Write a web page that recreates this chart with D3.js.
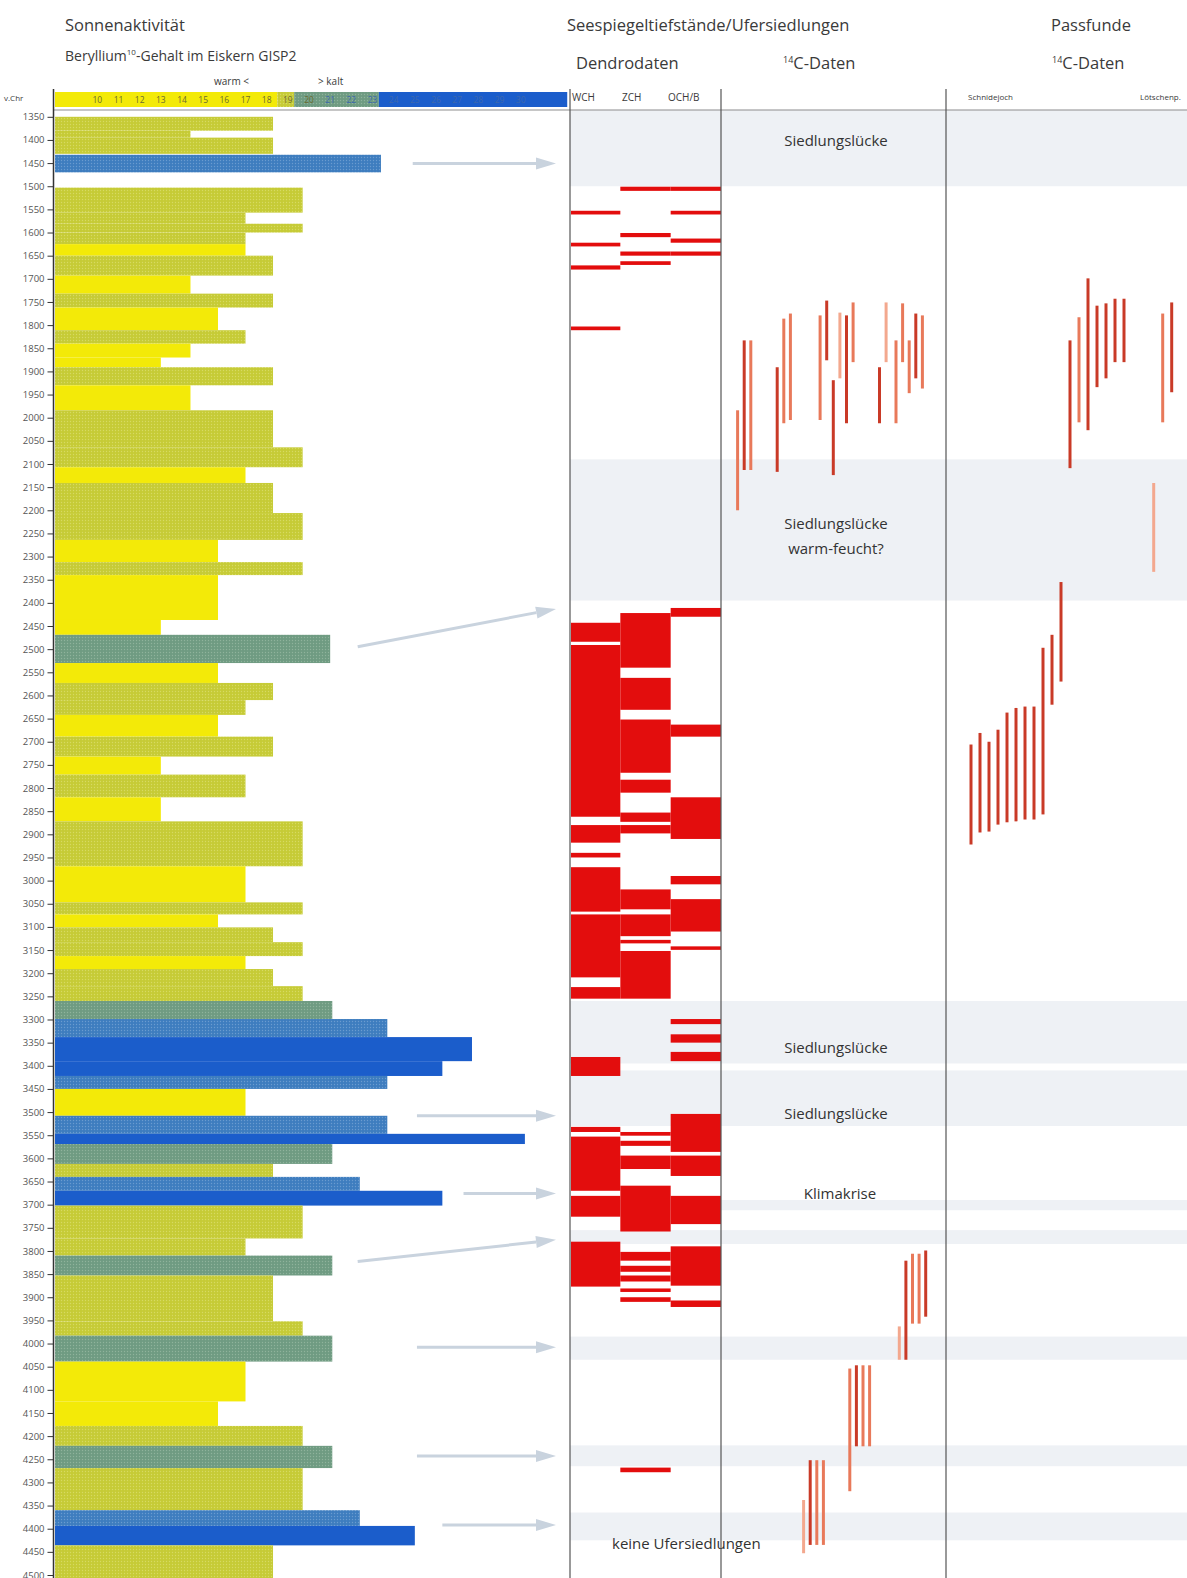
<!DOCTYPE html>
<html>
<head>
<meta charset="utf-8">
<script src="https://cdn.jsdelivr.net/npm/d3@7"></script>
<style>
  body { margin: 0; background: #fff; }
  svg { display: block; }
  text { font-family: "Open Sans", sans-serif; fill: #3a3a3a; }
</style>
</head>
<body>
<div id="chart"></div>
<script>
// ---- Be-10 bars: [von, bis (v.Chr.), Wert, Ton]
var beBars = [
  [1350,1380,18.3,"yg"],[1380,1395,14.4,"yg"],[1395,1430,18.3,"yg"],[1432,1470,23.4,"sb"],
  [1503,1557,19.7,"yg"],[1557,1581,17.0,"yg"],[1581,1600,19.7,"yg"],[1600,1625,17.0,"yg"],
  [1625,1650,17.0,"y"],[1650,1693,18.3,"yg"],[1693,1732,14.4,"y"],[1732,1762,18.3,"yg"],
  [1762,1811,15.7,"y"],[1811,1840,17.0,"yg"],[1840,1870,14.4,"y"],[1870,1891,13.0,"y"],
  [1891,1930,18.3,"yg"],[1930,1984,14.4,"y"],[1984,2064,18.3,"yg"],[2064,2107,19.7,"yg"],
  [2107,2141,17.0,"y"],[2141,2206,18.3,"yg"],[2206,2264,19.7,"yg"],[2264,2312,15.7,"y"],
  [2312,2340,19.7,"yg"],[2340,2437,15.7,"y"],[2437,2469,13.0,"y"],[2469,2530,21.0,"gg"],
  [2530,2573,15.7,"y"],[2573,2610,18.3,"yg"],[2610,2642,17.0,"yg"],[2642,2689,15.7,"y"],
  [2689,2732,18.3,"yg"],[2732,2771,13.0,"y"],[2771,2820,17.0,"yg"],[2820,2872,13.0,"y"],
  [2872,2969,19.7,"yg"],[2969,3047,17.0,"y"],[3047,3073,19.7,"yg"],[3073,3101,15.7,"y"],
  [3101,3133,18.3,"yg"],[3133,3163,19.7,"yg"],[3163,3191,17.0,"y"],[3191,3228,18.3,"yg"],
  [3228,3260,19.7,"yg"],[3260,3299,21.1,"gg"],[3299,3338,23.7,"sb"],[3338,3390,27.7,"db"],
  [3390,3422,26.3,"db"],[3422,3450,23.7,"sb"],[3450,3508,17.0,"y"],[3508,3547,23.7,"sb"],
  [3547,3569,30.2,"db"],[3569,3612,21.1,"gg"],[3612,3640,18.3,"yg"],[3640,3670,22.4,"sb"],
  [3670,3702,26.3,"db"],[3702,3773,19.7,"yg"],[3773,3810,17.0,"yg"],[3810,3853,21.1,"gg"],
  [3853,3952,18.3,"yg"],[3952,3983,19.7,"yg"],[3983,4039,21.1,"gg"],[4039,4125,17.0,"y"],
  [4125,4178,15.7,"y"],[4178,4221,19.7,"yg"],[4221,4269,21.1,"gg"],[4269,4360,19.7,"yg"],
  [4360,4394,22.4,"sb"],[4394,4436,25.0,"db"],[4436,4510,18.3,"yg"]
]

// legend of the Be scale
var scaleLabels = [10,11,12,13,14,15,16,17,18,19,20]
var scaleLabelsBlue = [21,22,23,24,25,26,27,28,29,30]
var scaleRanges = [[8,18.5,"y"],[18.5,19.3,"yg"],[19.3,23.3,"gg"],[23.3,32.2,"db"]]

// year ticks
var yearTicks = d3.range(1350, 4501, 50)

// Dendrodaten (v.Chr.) per Region
var dendroCols = ["WCH","ZCH","OCH/B"]
var wch = [[1553,1561],[1622,1630],[1671,1680],[1803,1811],[2443,2484],[2491,2862],[2880,2918],
  [2940,2950],[2971,3067],[3073,3209],[3230,3255],[3381,3422],[3532,3543],[3553,3670],
  [3681,3726],[3780,3877]]
var zch = [[1501,1510],[1601,1610],[1641,1650],[1662,1670],[2422,2540],[2562,2631],[2652,2767],
  [2782,2810],[2853,2873],[2880,2898],[3019,3062],[3073,3120],[3128,3133],[3152,3255],
  [3543,3551],[3562,3573],[3594,3623],[3659,3758],[3802,3821],[3832,3845],[3853,3866],
  [3881,3888],[3900,3910],[4268,4278]]
var och = [[1501,1510],[1553,1561],[1613,1622],[1641,1650],[2411,2430],[2663,2689],[2820,2910],
  [2990,3008],[3040,3110],[3142,3149],[3299,3310],[3332,3350],[3370,3390],[3504,3586],
  [3594,3638],[3681,3742],[3790,3875],[3907,3921]]

// 14C Ufersiedlungen: [Platz, von, bis, Ton]
var c14Lake = [
  [1,1984,2200,"m"],[2,1833,2113,"d"],[3,1833,2113,"m"],[7,1891,2117,"d"],[8,1786,2012,"m"],
  [9,1775,2005,"m"],[13.5,1779,2005,"m"],[14.5,1747,1876,"d"],[15.5,1919,2124,"d"],
  [16.5,1773,1915,"l"],[17.5,1779,2012,"d"],[18.5,1751,1880,"m"],[22.5,1891,2012,"d"],
  [23.5,1751,1880,"l"],[25,1833,2012,"m"],[26,1753,1880,"m"],[27,1833,1947,"m"],
  [28,1775,1915,"d"],[29,1779,1937,"m"],
  [25.5,3963,4035,"l"],[26.5,3821,4035,"d"],[27.5,3806,3957,"m"],[28.5,3806,3957,"m"],
  [29.5,3799,3942,"d"],
  [18,4054,4319,"m"],[19,4047,4222,"d"],[20,4047,4222,"m"],[21,4047,4222,"m"],
  [11,4338,4453,"l"],[12,4252,4435,"d"],[13,4252,4435,"m"],[14,4252,4435,"m"]
]

// 14C Passfunde: [Platz, von, bis, Ton]
var c14Pass = [
  [1,2706,2922,"d"],[2,2681,2896,"d"],[3,2700,2894,"d"],[4,2674,2879,"d"],[5,2637,2874,"d"],
  [6,2627,2872,"d"],[7,2624,2868,"d"],[8,2624,2868,"d"],[9,2497,2857,"d"],[10,2469,2620,"d"],
  [11,2355,2570,"d"],
  [12,1833,2109,"d"],[13,1783,2010,"m"],[14,1699,2027,"d"],[15,1758,1934,"d"],[16,1753,1915,"d"],
  [17,1743,1880,"d"],[18,1743,1880,"d"],[21.3,2141,2333,"l"],[22.3,1775,2010,"m"],[23.3,1751,1945,"d"]
]

// Siedlungsluecken / markierte Phasen
var gapBands = [[1335,1500],[2090,2395],[3260,3395],[3410,3530],[3690,3712],[3755,3785],
  [3985,4035],[4220,4265],[4365,4425]]

// Pfeile: [Jahr Start, Jahr Ziel, Startwert]
var arrows = [[1451,1451,24.9],[2495,2413,22.3],[3508,3508,25.1],[3676,3676,27.3],
  [3823,3776,22.3],[4008,4008,25.1],[4243,4243,25.1],[4392,4392,26.3]]

var notes = [["Siedlungslücke",1402],["Siedlungslücke",2230],["warm-feucht?",2284],
  ["Siedlungslücke",3360],["Siedlungslücke",3503],["Klimakrise",3676]]

// ------------------------------------------------------------------
var W = 1187, H = 1578
var tone = { y: "#f3ea08", yg: "#c6cb36", gg: "#6f9b82", sb: "#3e7dbf", db: "#1b5dcb" }
var dot  = { yg: "#d7da62", gg: "#8fb39c", sb: "#6a9bd0" }
var lineTone = { d: "#c93a27", m: "#e8795a", l: "#f3a88e" }

var svg = d3.select("#chart").append("svg")
    .attr("width", W).attr("height", H)

svg.append("rect").attr("width", W).attr("height", H).attr("fill", "#fff")

var defs = svg.append("defs")
Object.keys(dot).forEach(function(k){
  var p = defs.append("pattern").attr("id", "pat_" + k)
    .attr("width", 3).attr("height", 3).attr("patternUnits", "userSpaceOnUse")
  p.append("rect").attr("width", 3).attr("height", 3).attr("fill", tone[k])
  p.append("circle").attr("cx", 1.5).attr("cy", 1.5).attr("r", 0.7).attr("fill", dot[k])
})
function fillOf(t){ return dot[t] ? "url(#pat_" + t + ")" : tone[t] }

var y = d3.scaleLinear().domain([1350, 4500]).range([116.8, 1575])
var x = d3.scaleLinear().domain([8, 32]).range([55, 563])
var xDendro = d3.scaleBand().domain(dendroCols).range([570, 721])
var xLake = d3.scaleLinear().domain([0, 30]).range([731, 929])
var xPass = d3.scaleLinear().domain([0, 24]).range([962, 1178])

// grey bands
svg.append("g").selectAll("rect").data(gapBands).enter().append("rect")
  .attr("x", 570).attr("width", W - 570)
  .attr("y", function(d){ return y(d[0]) })
  .attr("height", function(d){ return y(d[1]) - y(d[0]) })
  .attr("fill", "#eef1f5")

// Be bars
svg.append("g").selectAll("rect").data(beBars).enter().append("rect")
  .attr("x", x(8))
  .attr("y", function(d){ return y(d[0]) })
  .attr("height", function(d){ return y(d[1]) - y(d[0]) })
  .attr("width", function(d){ return x(d[2]) - x(8) })
  .attr("fill", function(d){ return fillOf(d[3]) })

// scale bar at top
var sg = svg.append("g")
sg.selectAll("rect").data(scaleRanges).enter().append("rect")
  .attr("x", function(d){ return x(d[0]) })
  .attr("width", function(d){ return x(d[1]) - x(d[0]) })
  .attr("y", 92).attr("height", 15)
  .attr("fill", function(d){ return fillOf(d[2]) })
sg.selectAll("text.s").data(scaleLabels).enter().append("text")
  .attr("x", function(d){ return x(d) }).attr("y", 103)
  .attr("text-anchor", "middle").style("font-size", "8.5px").style("fill", "#6b6a30")
  .text(function(d){ return d })
sg.selectAll("text.b").data(scaleLabelsBlue).enter().append("text")
  .attr("x", function(d){ return x(d) }).attr("y", 103)
  .attr("text-anchor", "middle").style("font-size", "8.5px").style("fill", "#3d68ad")
  .text(function(d){ return d })

// arrows
var ag = svg.append("g")
arrows.forEach(function(a){
  var x0 = x(a[2]), y0 = y(a[0]), x1 = 556, y1 = y(a[1])
  var ang = Math.atan2(y1 - y0, x1 - x0)
  var hx = x1 - 20 * Math.cos(ang), hy = y1 - 20 * Math.sin(ang)
  ag.append("line").attr("x1", x0).attr("y1", y0).attr("x2", hx).attr("y2", hy)
    .attr("stroke", "#c9d3de").attr("stroke-width", 3)
  var px = -Math.sin(ang) * 6, py = Math.cos(ang) * 6
  ag.append("path")
    .attr("d", "M" + x1 + "," + y1 + "L" + (hx + px) + "," + (hy + py) + "L" + (hx - px) + "," + (hy - py) + "Z")
    .attr("fill", "#c9d3de")
})

// dendro bars
var dg = svg.append("g")
;[wch, zch, och].forEach(function(list, i){
  dg.selectAll("rect.c" + i).data(list).enter().append("rect")
    .attr("x", xDendro(dendroCols[i]) + (i === 0 ? 1 : 0))
    .attr("width", xDendro.bandwidth() - (i === 0 ? 1 : 0))
    .attr("y", function(d){ return y(d[0]) })
    .attr("height", function(d){ return Math.max(3.5, y(d[1]) - y(d[0])) })
    .attr("fill", "#e30d0d")
})

// 14C lines
function drawLines(data, xs){
  svg.append("g").selectAll("line").data(data).enter().append("line")
    .attr("x1", function(d){ return xs(d[0]) }).attr("x2", function(d){ return xs(d[0]) })
    .attr("y1", function(d){ return y(d[1]) }).attr("y2", function(d){ return y(d[2]) })
    .attr("stroke", function(d){ return lineTone[d[3]] })
    .attr("stroke-width", 3)
}
drawLines(c14Lake, xLake)
drawLines(c14Pass, xPass)

// notes
svg.append("g").selectAll("text").data(notes).enter().append("text")
  .attr("x", function(d){ return d[0] === "Klimakrise" ? 840 : 836 })
  .attr("y", function(d){ return y(d[1]) }).attr("dy", "0.35em")
  .attr("text-anchor", "middle").style("font-size", "15px").style("fill", "#333")
  .text(function(d){ return d[0] })
svg.append("text").attr("x", 612).attr("y", y(4432)).attr("dy", "0.35em")
  .style("font-size", "15px").style("fill", "#333").text("keine Ufersiedlungen")

// frame lines
svg.append("line").attr("x1", 53).attr("x2", W).attr("y1", 110).attr("y2", 110)
  .attr("stroke", "#8d8d8d").attr("stroke-width", 1.2)
;[570, 721, 946].forEach(function(v){
  svg.append("line").attr("x1", v).attr("x2", v).attr("y1", 89).attr("y2", H)
    .attr("stroke", "#555").attr("stroke-width", 1.2)
})

// year axis
var axis = svg.append("g").attr("transform", "translate(53.5,0)")
  .call(d3.axisLeft(y).tickValues(yearTicks).tickSize(6).tickPadding(3).tickFormat(d3.format("d")))
axis.select(".domain").remove()
axis.selectAll("line").attr("stroke", "#333")
axis.selectAll("text").style("font-size", "9.5px").style("fill", "#555").style("font-family", "'Open Sans',sans-serif")
svg.append("line").attr("x1", 53.5).attr("x2", 53.5).attr("y1", 89).attr("y2", H)
  .attr("stroke", "#333").attr("stroke-width", 1.5)

// headers
function head(tx, px, py, size){
  return svg.append("text").attr("x", px).attr("y", py).style("font-size", size + "px").text(tx)
}
head("Sonnenaktivität", 65, 31, 16.5)
var be = head("Beryllium", 65, 61, 14)
be.append("tspan").attr("dy", -6).style("font-size", "8px").text("10")
be.append("tspan").attr("dy", 6).text("-Gehalt im Eiskern GISP2")
head("warm <", 214, 85, 10)
head("> kalt", 318, 85, 10)
head("v.Chr", 4, 101, 8)
head("Seespiegeltiefstände/Ufersiedlungen", 567, 31, 16.5)
head("Dendrodaten", 576, 69, 16.5)
var c1 = head("", 783, 69, 16.5)
c1.append("tspan").attr("dy", -6).style("font-size", "9px").text("14")
c1.append("tspan").attr("dy", 6).text("C-Daten")
head("Passfunde", 1051, 31, 16.5)
var c2 = head("", 1052, 69, 16.5)
c2.append("tspan").attr("dy", -6).style("font-size", "9px").text("14")
c2.append("tspan").attr("dy", 6).text("C-Daten")
head("WCH", 572, 101, 10)
head("ZCH", 622, 101, 10)
head("OCH/B", 668, 101, 10)
head("Schnidejoch", 968, 100, 8)
head("Lötschenp.", 1140, 100, 8)
</script>
</body>
</html>
